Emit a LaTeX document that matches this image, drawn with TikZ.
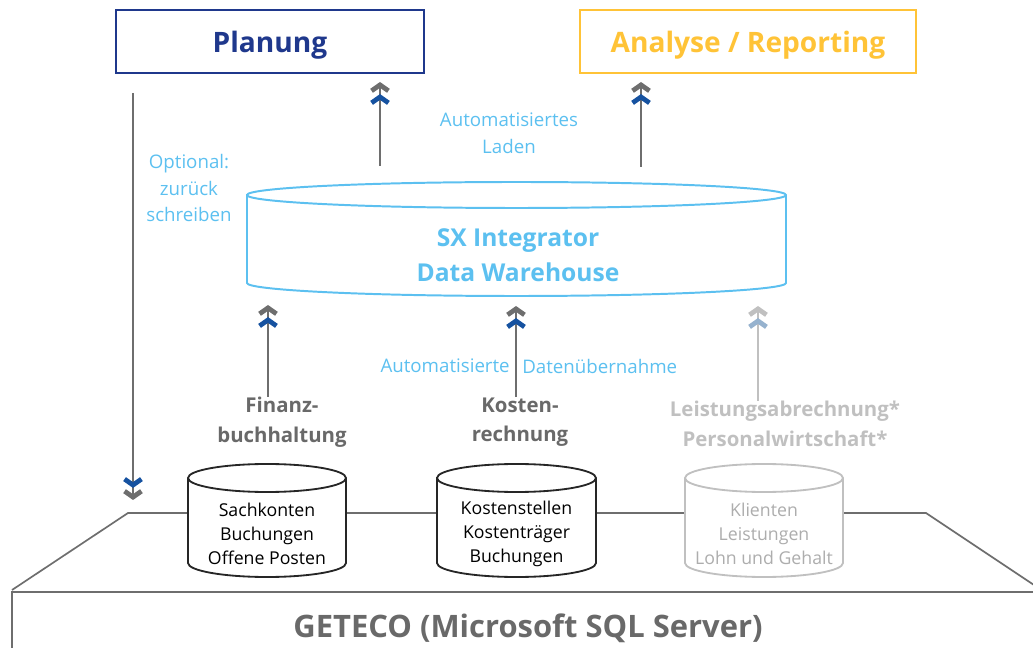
\documentclass[tikz,border=0pt]{standalone}
\usepackage{fontspec}
\setmainfont{Open Sans}
\usepackage{tikz}
\usetikzlibrary{arrows.meta}
\definecolor{planblue}{RGB}{31,56,140}
\definecolor{gold}{RGB}{255,195,55}
\definecolor{skyblue}{RGB}{92,192,240}
\definecolor{chevblue}{RGB}{22,82,160}
\definecolor{chevgrey}{RGB}{110,110,110}
\definecolor{softgrey}{RGB}{192,192,192}
\definecolor{fadeblue}{RGB}{150,178,206}
\definecolor{darkgrey}{RGB}{105,105,105}
\tikzset{%
    topbox/.style={draw,line width=1.4pt,minimum width=#1,minimum height=1.575cm,
        text depth=0pt,font=\bfseries\fontsize{20}{24}\selectfont},
    flow/.style n args={3}{draw=#1,line width=1.4pt,
        -{Straight Barb[length=4.2pt,width=12pt,line width=3.4pt,color=#2,sep=0.6pt]
          Straight Barb[length=4.2pt,width=12pt,line width=3.4pt,color=#3]}},
    note/.style={text=skyblue,inner sep=0pt,align=center,font=\fontsize{13.3}{19}\selectfont},
    srclabel/.style={inner sep=0pt,align=center,font=\bfseries\fontsize{14.5}{21}\selectfont},
    cyltext/.style={inner sep=0pt,align=center,font=\fontsize{12.6}{17}\selectfont},
    platform/.style={draw=chevgrey,line width=1.2pt}
}
% #1 x, #2 top y, #3 bottom y, #4 half width, #5 y radius, #6 style
\newcommand{\dbcyl}[6]{%
    \filldraw[fill=white,#6] (#1-#4,#2) -- (#1-#4,#3)
        arc[start angle=180,end angle=0,x radius=#4,y radius=#5] -- (#1+#4,#2)
        arc[start angle=0,end angle=-180,x radius=#4,y radius=#5] -- cycle;
    \draw[#6] (#1-#4,#2) arc[start angle=180,end angle=0,x radius=#4,y radius=#5];
}

\begin{document}
\begin{tikzpicture}[x=0.025cm,y=-0.025cm]
    \useasboundingbox (0,0) rectangle (1033,648);
    \clip (0,0) rectangle (1033,648);

    \node[topbox=7.7cm,draw=planblue,text=planblue] (plan) at (270,41.5) {Planung};
    \node[topbox=8.4cm,draw=gold,text=gold] (ana) at (748,41.5) {Analyse / Reporting};

    \draw[platform] (12,590) -- (128,513) -- (926,513) -- (1043,591);
    \draw[platform] (12,660) -- (12,592) -- (1040,592);
    \node[font=\bfseries\fontsize{22}{26}\selectfont,text=darkgrey] (geteco) at (528,628) {GETECO (Microsoft SQL Server)};

    \dbcyl{516.5}{195}{283}{269.5}{13}{draw=skyblue,line width=1.4pt}
    \node[align=center,text=skyblue,font=\bfseries\fontsize{17.5}{25}\selectfont] (dwh) at (518,255) {SX Integrator\\Data Warehouse};

    \dbcyl{267}{478}{563}{79}{14}{draw=black!85,line width=1.3pt}
    \dbcyl{516.5}{478}{563}{79.5}{14}{draw=black!85,line width=1.3pt}
    \dbcyl{764}{478}{563}{79}{14}{draw=softgrey,line width=1.3pt}
    \node[cyltext] (fibudb) at (267,534) {Sachkonten\\Buchungen\\Offene Posten};
    \node[cyltext] (koredb) at (516.5,534) {Kostenstellen\\Kostenträger\\Buchungen};
    \node[cyltext,text=softgrey!90!black] (leistdb) at (764,534) {Klienten\\Leistungen\\Lohn und Gehalt};

    \node[srclabel,text=darkgrey] (fibu) at (282,422) {Finanz-\\buchhaltung};
    \node[srclabel,text=darkgrey] (kore) at (520,422) {Kosten-\\rechnung};
    \node[srclabel,text=softgrey] (leist) at (785,424) {Leistungsabrechnung*\\Personalwirtschaft*};

    \node[note] (laden) at (509,133) {Automatisiertes\\Laden};
    \node[note,font=\fontsize{13.3}{18.5}\selectfont] (optional) at (189,188) {Optional:\\zurück\\schreiben};
    \node[note,anchor=east] (autoa) at (510,366) {Automatisierte};
    \node[note,anchor=west] (autob) at (522,366) {Datenübernahme};

    \coordinate (plantip) at (380,82);
    \coordinate (anatip) at (641,82);
    \coordinate (backtop) at (133,93);
    \coordinate (backtip) at (133,500);
    \coordinate (fibutip) at (268,305);
    \coordinate (koretip) at (516,306);
    \coordinate (leisttip) at (758,306);

    \draw[flow={chevgrey}{chevblue}{chevgrey}] (380,166) -- (plantip);
    \draw[flow={chevgrey}{chevblue}{chevgrey}] (641,167) -- (anatip);
    \draw[flow={chevgrey}{chevblue}{chevgrey}] (backtop) -- (backtip);
    \draw[flow={chevgrey}{chevblue}{chevgrey}] (fibu.north -| fibutip) -- (fibutip);
    \draw[flow={chevgrey}{chevblue}{chevgrey}] (kore.north -| koretip) -- (koretip);
    \draw[flow={softgrey}{fadeblue}{softgrey}] (leist.north -| leisttip) -- (leisttip);
\end{tikzpicture}
\end{document}
